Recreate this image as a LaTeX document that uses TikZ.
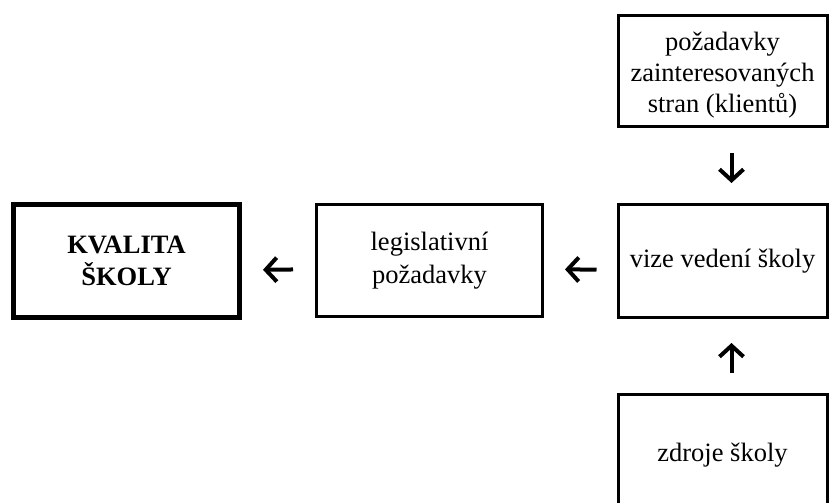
\documentclass[tikz,border=0pt]{standalone}
\usepackage{fontspec}
\setmainfont{Liberation Serif}
\usetikzlibrary{arrows.meta}
\tikzset{
  boxnode/.style={draw=black, line width=3pt, align=center, inner sep=0pt,
    font=\fontsize{26.5}{33}\selectfont},
  bigbox/.style={boxnode, line width=5pt, font=\fontsize{26.5}{32}\selectfont\bfseries},
  boxtext/.style={align=center, inner sep=0pt, font=\fontsize{26.5}{31}\selectfont},
  arr/.style={line width=4pt, -{Straight Barb[length=11pt,width=24pt,line width=4pt]}}
}
\begin{document}
\begin{tikzpicture}[x=1pt,y=-1pt]
\useasboundingbox (0,0) rectangle (833,503);
\begin{scope}
\clip (0,0) rectangle (833,503);
\node[bigbox, minimum width=226pt, minimum height=113pt] (kval) at (126.5,261) {KVALITA\\ŠKOLY};
\node[boxnode, minimum width=226pt, minimum height=112.5pt] (legis) at (429.5,260.25) {legislativní\\požadavky};
\node[boxnode, minimum width=209pt, minimum height=112.5pt] (vize) at (722.5,260.75) {vize vedení školy};
\node[boxnode, minimum width=209pt, minimum height=110.5pt] (poz) at (722.5,71.25) {};
\node[boxtext] (poztext) at ([yshift=-4pt]poz.center) {požadavky\\zainteresovaných\\stran (klientů)};
\node[boxnode, minimum width=209pt, minimum height=122pt] (zdroje) at (722.5,455) {zdroje školy};
\end{scope}
\draw[arr, shorten <=22pt, shorten >=21pt] ([yshift=-9pt]legis.west) -- ([yshift=-9pt]kval.east);
\draw[arr, shorten <=20pt, shorten >=21pt] ([yshift=-9pt]vize.west) -- ([yshift=-9pt]legis.east);
\draw[arr, shorten <=25pt, shorten >=20pt] ([xshift=9pt]poz.south) -- ([xshift=9pt]vize.north);
\draw[arr, shorten <=19.5pt, shorten >=24.5pt] ([xshift=9pt]zdroje.north) -- ([xshift=9pt]vize.south);
\end{tikzpicture}
\end{document}
